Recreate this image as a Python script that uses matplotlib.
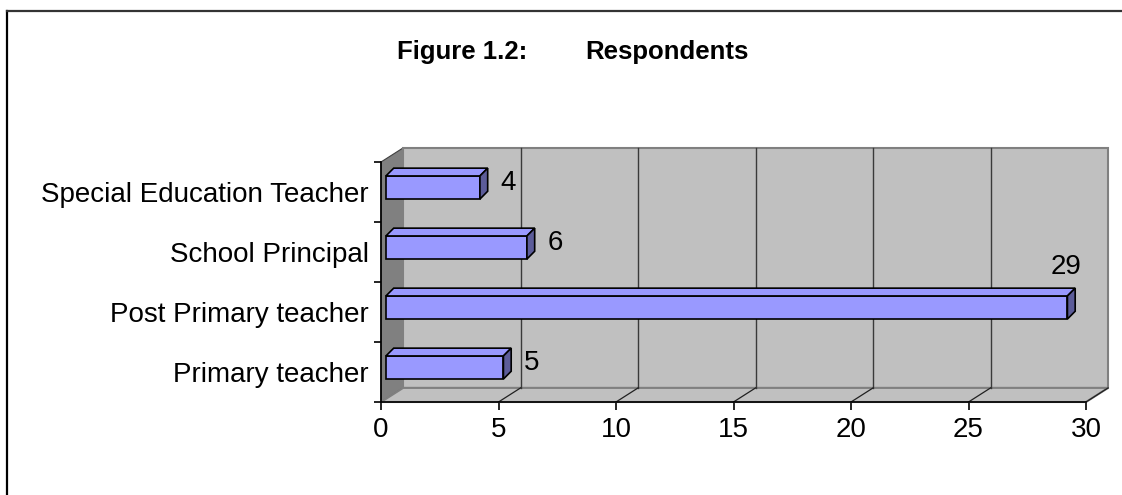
import numpy as np
import matplotlib
matplotlib.use('Agg')
import matplotlib.pyplot as plt
from matplotlib.patches import Polygon, Rectangle
from matplotlib.lines import Line2D

plt.rcParams['font.family'] = ['Liberation Sans', 'DejaVu Sans']

# data
categories = ['Primary teacher', 'Post Primary teacher', 'School Principal',
              'Special Education Teacher']
values = [5, 29, 6, 4]
xticks = [0, 5, 10, 15, 20, 25, 30]

# 3d look, in data units
DX, DY = 0.94, 0.235        # depth of the walls
BX0, BY0 = 0.21, 0.075      # bar offset into the depth
BH = 0.385                  # bar height
BDX, BDY = 0.33, 0.13       # bar depth

FRONT = '#9999FF'
SIDE = '#5C5C99'
WALL = '#C0C0C0'
DARK = '#808080'
FS = 20

fig = plt.figure(figsize=(11.22, 4.95), dpi=100)
ax = fig.add_axes([381 / 1122, 93 / 495, 705 / 1122, 240 / 495])
ax.set_xlim(0, 30)
ax.set_ylim(-0.5, 3.5)
ax.patch.set_visible(False)

# walls
ax.add_patch(Polygon([(0, -0.5), (DX, -0.5 + DY), (DX, 3.5 + DY), (0, 3.5)],
                     closed=True, fc=DARK, ec='#404040', lw=0.8, clip_on=False, zorder=1))
ax.add_patch(Rectangle((DX, -0.5 + DY), 30, 4, fc=WALL, ec=DARK, lw=1.5,
                       clip_on=False, zorder=1))
ax.add_patch(Polygon([(0, -0.5), (30, -0.5), (30 + DX, -0.5 + DY), (DX, -0.5 + DY)],
                     closed=True, fc=WALL, ec=DARK, lw=1.5, clip_on=False, zorder=2))
for x in xticks[1:-1]:
    ax.plot([x + DX, x + DX], [-0.5 + DY, 3.5 + DY], color='#3A3A3A', lw=1,
            clip_on=False, zorder=2)
for x in xticks[1:]:
    ax.plot([x, x + DX], [-0.5, -0.5 + DY], color='#202020', lw=0.9,
            clip_on=False, zorder=3)

# bars
for i, v in enumerate(values):
    yc = i + BY0
    y0 = yc - BH / 2
    x0 = BX0
    ax.add_patch(Rectangle((x0, y0), v, BH, fc=FRONT, ec='black', lw=1.2,
                           clip_on=False, zorder=5))
    ax.add_patch(Polygon([(x0, y0 + BH), (x0 + v, y0 + BH),
                          (x0 + v + BDX, y0 + BH + BDY), (x0 + BDX, y0 + BH + BDY)],
                         closed=True, fc=FRONT, ec='black', lw=1.2, clip_on=False, zorder=5))
    ax.add_patch(Polygon([(x0 + v, y0), (x0 + v + BDX, y0 + BDY),
                          (x0 + v + BDX, y0 + BH + BDY), (x0 + v, y0 + BH)],
                         closed=True, fc=SIDE, ec='black', lw=1.2, clip_on=False, zorder=5))
    if v > 25:
        ax.text(v + BX0 - 0.05, yc + 0.67, str(v), ha='center', va='center', fontsize=FS)
    else:
        ax.text(v + BX0 + BDX + 0.55, yc + 0.08, str(v), ha='left', va='center',
                fontsize=FS)

# axes
for s in ['top', 'right']:
    ax.spines[s].set_visible(False)
ax.spines['left'].set_linewidth(1.2)
ax.spines['bottom'].set_linewidth(1.2)
ax.spines['left'].set_zorder(6)
ax.spines['bottom'].set_zorder(6)
ax.set_xticks(xticks)
ax.tick_params(axis='x', direction='out', length=6, width=1.2, labelsize=FS, pad=5)
ax.set_yticks(np.arange(-0.5, 4, 1), labels=[''] * 5)
ax.set_yticks(range(4), labels=categories, minor=True)
ax.tick_params(axis='y', which='major', direction='out', length=5, width=1.2)
ax.tick_params(axis='y', which='minor', length=0, labelsize=FS, pad=9)

# title
fig.text(397 / 1122, 1 - 52 / 495, 'Figure 1.2:', fontsize=18.5, fontweight='bold',
         ha='left', va='center')
fig.text(585 / 1122, 1 - 52 / 495, 'Respondents', fontsize=18.5, fontweight='bold',
         ha='left', va='center')

# chart area border (left and top only visible)
fig.add_artist(Line2D([7 / 1122, 7 / 1122], [0, 1 - 11 / 495], color='black', lw=1.6))
fig.add_artist(Line2D([7 / 1122, 1], [1 - 11 / 495, 1 - 11 / 495], color='#333333', lw=1.6))

fig.savefig('out.png', dpi=100)
